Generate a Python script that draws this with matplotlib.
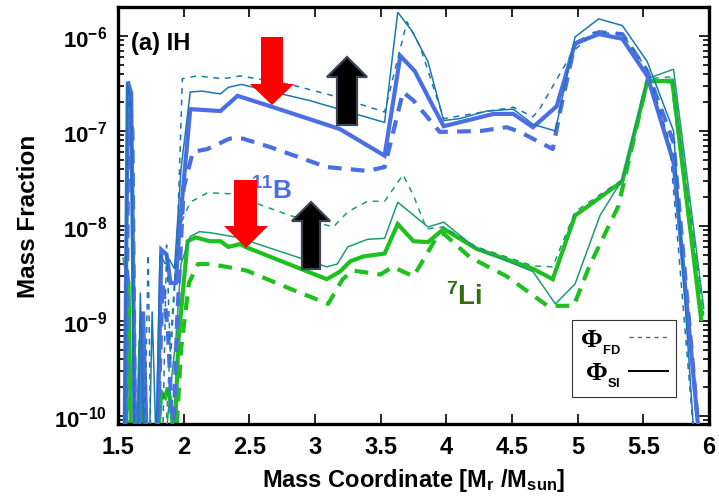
"""Recreation of the 11B / 7Li mass fraction panel (a) IH."""

import matplotlib

matplotlib.use("Agg")
import matplotlib.pyplot as plt
import numpy as np
from matplotlib.lines import Line2D
from matplotlib.patches import Polygon

plt.rcParams["font.family"] = ["Liberation Sans Narrow", "Liberation Sans", "DejaVu Sans"]
plt.rcParams["font.weight"] = "bold"
plt.rcParams["mathtext.fontset"] = "custom"
plt.rcParams["mathtext.rm"] = "Liberation Serif"
plt.rcParams["mathtext.bf"] = "Liberation Sans:bold"
plt.rcParams["mathtext.it"] = "Liberation Sans:bold"

# --- data: mass coordinate and log10(mass fraction) ---
FLOOR = -10.3

b_si_thick_x = [1.55, 1.575, 1.60, 1.63, 1.66, 1.69, 1.72, 1.80, 1.83, 1.87, 1.90, 1.94, 1.97,
                2.05, 2.28, 2.41, 2.66, 3.19, 3.53, 3.65, 3.76, 3.88, 3.98, 4.36, 4.51, 4.66,
                4.84, 4.98, 5.16, 5.34, 5.53, 5.73, 5.93]
b_si_thick_y = [FLOOR, -6.48, -6.60, FLOOR, FLOOR, -8.90, FLOOR, FLOOR, -8.25, -8.30, -8.60, -8.60, -8.00,
                -6.77, -6.79, -6.63, -6.74, -6.98, -7.26, -6.21, -6.37, -6.69, -6.95, -6.82, -6.82, -6.96,
                -6.74, -6.08, -5.98, -6.03, -6.42, -7.33, FLOOR]

b_si_thin_x = [1.55, 1.57, 1.60, 1.62, 1.65, 1.67, 1.70, 1.74, 1.76, 1.79, 1.82, 1.86, 1.89, 1.93,
               1.98, 2.05, 2.14, 2.28, 2.34, 2.44, 2.96, 3.53, 3.63, 3.74, 3.86, 3.98, 4.10, 4.31,
               4.51, 4.66, 4.83, 4.98, 5.16, 5.34, 5.53, 5.73, 5.89]
b_si_thin_y = [FLOOR, -6.50, -6.70, FLOOR, FLOOR, -8.70, FLOOR, FLOOR, -8.90, FLOOR, -8.30, -8.40, -8.35, -8.45,
               -7.40, -6.59, -6.58, -6.61, -6.54, -6.51, -6.68, -6.91, -5.75, -5.95, -6.27, -6.89, -6.87, -6.79,
               -6.77, -6.93, -7.00, -6.01, -5.82, -5.89, -6.27, -7.00, FLOOR]

b_fd_thin_x = [1.55, 1.575, 1.60, 1.63, 1.70, 1.73, 1.75, 1.84, 1.87, 1.90, 1.95, 1.99, 2.10, 2.30,
               2.43, 2.81, 3.14, 3.53, 3.70, 3.80, 3.88, 3.98, 4.28, 4.51, 4.66, 4.71, 4.81, 4.96,
               5.12, 5.34, 5.53, 5.70, 5.89]
b_fd_thin_y = [FLOOR, -6.60, -6.80, FLOOR, FLOOR, -8.30, FLOOR, FLOOR, -8.20, -9.40, -8.20, -6.45, -6.42, -6.45,
               -6.42, -6.51, -6.63, -6.80, -5.85, -6.11, -6.45, -6.87, -6.80, -6.75, -6.85, -6.77, -6.53, -6.17,
               -5.96, -5.98, -6.35, -7.12, FLOOR]

b_fd_thick_x = [1.56, 1.58, 1.61, 1.63, 1.80, 1.84, 1.88, 1.92, 1.95, 2.00, 2.07, 2.18, 2.35, 2.45,
                2.66, 3.09, 3.40, 3.53, 3.67, 3.75, 3.95, 4.26, 4.46, 4.56, 4.81, 4.87, 4.98, 5.16,
                5.34, 5.53, 5.73, 5.93]
b_fd_thick_y = [FLOOR, -6.70, -7.00, FLOOR, FLOOR, -8.60, -9.10, FLOOR, -9.00, -7.60, -7.22, -7.19, -7.08, -7.08,
                -7.17, -7.38, -7.42, -7.38, -6.59, -6.68, -7.01, -7.00, -6.96, -7.01, -7.19, -6.77, -6.08, -5.96,
                -5.98, -6.37, -7.12, FLOOR]

li_si_thick_x = [1.55, 1.58, 1.60, 1.65, 1.67, 1.69, 1.80, 1.83, 1.86, 1.88, 1.90, 1.93, 1.96, 2.03,
                 2.09, 2.20, 2.28, 2.34, 2.43, 2.47, 3.09, 3.19, 3.27, 3.37, 3.53, 3.63, 3.75, 3.86,
                 3.98, 4.23, 4.66, 4.81, 4.98, 5.34, 5.53, 5.72, 5.94]
li_si_thick_y = [-8.35, -8.60, FLOOR, FLOOR, -9.20, FLOOR, FLOOR, -9.75, -9.80, -9.70, -9.85, FLOOR, -9.20, -8.16,
                 -8.12, -8.16, -8.16, -8.22, -8.19, -8.22, -8.56, -8.48, -8.37, -8.32, -8.29, -7.98, -8.16, -8.17,
                 -8.03, -8.24, -8.45, -8.56, -7.89, -7.53, -6.48, -6.47, -8.98]

li_si_thin_x = [1.55, 1.57, 1.65, 1.68, 1.70, 1.86, 1.90, 1.94, 1.98, 2.05, 2.12, 2.20, 2.41, 3.09,
                3.17, 3.25, 3.40, 3.53, 3.63, 3.86, 3.98, 4.23, 4.66, 4.83, 4.98, 5.17, 5.34, 5.53,
                5.73, 5.96]
li_si_thin_y = [-9.00, FLOOR, FLOOR, -9.50, FLOOR, FLOOR, -9.70, -9.20, -8.40, -8.11, -8.06, -8.07, -8.12, -8.43,
                -8.40, -8.22, -8.14, -8.13, -7.75, -8.01, -7.96, -8.24, -8.48, -8.82, -8.61, -7.89, -7.51, -6.45,
                -6.35, -8.87]

li_fd_thin_x = [1.55, 1.58, 1.86, 1.90, 1.93, 1.97, 2.05, 2.18, 2.35, 2.53, 2.81, 3.14, 3.25, 3.40,
                3.53, 3.67, 3.75, 3.85, 3.98, 4.23, 4.66, 4.81, 4.98, 5.34, 5.53, 5.72, 5.96]
li_fd_thin_y = [-9.50, FLOOR, FLOOR, -9.20, -8.60, -8.00, -7.75, -7.65, -7.66, -7.75, -7.89, -8.01, -7.85, -7.74,
                -7.74, -7.46, -7.68, -8.03, -8.01, -8.22, -8.42, -8.43, -7.85, -7.51, -6.45, -6.43, -8.93]

li_fd_thick_x = [1.56, 1.58, 1.94, 1.98, 2.04, 2.11, 2.20, 2.41, 2.48, 2.81, 3.10, 3.21, 3.29, 3.50,
                 3.59, 3.75, 3.93, 3.98, 4.18, 4.46, 4.77, 4.97, 5.09, 5.31, 5.53, 5.72, 5.95]
li_fd_thick_y = [-8.60, FLOOR, FLOOR, -9.30, -8.60, -8.40, -8.40, -8.45, -8.47, -8.66, -8.82, -8.56, -8.47, -8.51,
                 -8.43, -8.53, -8.11, -8.08, -8.33, -8.53, -8.84, -8.84, -8.42, -7.79, -6.47, -6.48, -9.00]

x_ticks = [1.5, 2, 2.5, 3, 3.5, 4, 4.5, 5, 5.5, 6]
x_tick_labels = ["1.5", "2", "2.5", "3", "3.5", "4", "4.5", "5", "5.5", "6"]
y_ticks = [1e-10, 1e-9, 1e-8, 1e-7, 1e-6]
y_tick_labels = [r"10$^{\mathbf{-10}}$", r"10$^{\mathbf{-9}}$", r"10$^{\mathbf{-8}}$",
                 r"10$^{\mathbf{-7}}$", r"10$^{\mathbf{-6}}$"]
legend_labels = [r"$\Phi_{_{\mathbf{FD}}}$", r"$\Phi_{_{\mathbf{SI}}}$"]

# --- styles ---
B_THICK = "#4a6fe3"
B_THIN = "#1a78b0"
LI_THICK = "#1ec01e"
LI_THIN = "#1f9a76"
THICK_DASH = (0, (3.3, 2.2))
THIN_DASH = (0, (3.8, 3.8))

# figure pixel geometry of the axes frame
AX_L, AX_R, AX_T, AX_B = 118, 709, 8, 425
FIG_W, FIG_H = 719, 502


def px_to_axes(px, py):
    return ((px - AX_L) / (AX_R - AX_L), (AX_B - py) / (AX_B - AX_T))


def block_arrow(ax, tip, shaft_x, end_y, head_base_y, head_x, face, edge=None):
    """Draw a block arrow given pixel-coordinate geometry."""
    pts = [
        (shaft_x[0], end_y),
        (shaft_x[1], end_y),
        (shaft_x[1], head_base_y),
        (head_x[1], head_base_y),
        tip,
        (head_x[0], head_base_y),
        (shaft_x[0], head_base_y),
    ]
    verts = [px_to_axes(*p) for p in pts]
    poly = Polygon(verts, closed=True, transform=ax.transAxes, facecolor=face,
                   edgecolor=edge if edge else face, linewidth=1.6 if edge else 0,
                   joinstyle="miter", zorder=6)
    ax.add_patch(poly)


fig = plt.figure(figsize=(FIG_W / 100, FIG_H / 100), dpi=100)
ax = fig.add_axes([AX_L / FIG_W, 1 - AX_B / FIG_H, (AX_R - AX_L) / FIG_W, (AX_B - AX_T) / FIG_H])


def plot_series(x, logy, color, lw, ls, z):
    ax.plot(x, np.power(10.0, logy), color=color, lw=lw, ls=ls, zorder=z,
            solid_joinstyle="miter", dash_capstyle="butt")


plot_series(li_fd_thick_x, li_fd_thick_y, LI_THICK, 3.0, THICK_DASH, 2)
plot_series(li_si_thick_x, li_si_thick_y, LI_THICK, 3.0, "-", 2)
plot_series(li_fd_thin_x, li_fd_thin_y, LI_THIN, 1.1, THIN_DASH, 3)
plot_series(li_si_thin_x, li_si_thin_y, LI_THIN, 1.1, "-", 3)
plot_series(b_fd_thick_x, b_fd_thick_y, B_THICK, 3.0, THICK_DASH, 4)
plot_series(b_si_thick_x, b_si_thick_y, B_THICK, 3.0, "-", 4)
plot_series(b_fd_thin_x, b_fd_thin_y, B_THIN, 1.1, THIN_DASH, 5)
plot_series(b_si_thin_x, b_si_thin_y, B_THIN, 1.1, "-", 5)

ax.set_yscale("log")
ax.set_xlim(1.5, 6.0)
ax.set_ylim(10 ** -10.084, 10 ** -5.695)

ax.set_xticks(x_ticks)
ax.set_xticklabels(x_tick_labels, fontsize=17, fontweight="bold")
ax.set_yticks(y_ticks)
ax.set_yticklabels(y_tick_labels, fontsize=16, fontweight="bold")
ax.tick_params(which="both", direction="in", top=True, right=True, width=1.2)
ax.tick_params(which="major", length=7, pad=8)
ax.tick_params(which="minor", length=4)
ax.tick_params(axis="x", which="minor", bottom=False, top=False)
for sp in ax.spines.values():
    sp.set_linewidth(2.4)

ax.set_xlabel(r"Mass Coordinate [M$_{\mathbf{r}}$ /M$_{\mathbf{sun}}$]", fontsize=17, fontweight="bold", labelpad=6)
ax.set_ylabel("Mass Fraction", fontsize=17.5, fontweight="bold", labelpad=10)

# panel and species labels
ax.text(*px_to_axes(131, 50), "(a) IH", fontsize=17, fontweight="bold", color="black",
        transform=ax.transAxes, ha="left", va="baseline")
ax.text(*px_to_axes(251, 200), r"$^{\mathbf{11}}$B", fontsize=19, fontweight="bold", color=B_THICK,
        transform=ax.transAxes, ha="left", va="baseline")
ax.text(*px_to_axes(446, 305), r"$^{\mathbf{7}}$Li", fontsize=20, fontweight="bold", color="#336d10",
        transform=ax.transAxes, ha="left", va="baseline")

# arrows (pixel geometry)
block_arrow(ax, (272, 106), (261, 283), 38, 85, (250, 294), "#ff0000")
block_arrow(ax, (246, 249), (234, 257), 181, 227, (224, 268), "#ff0000")
block_arrow(ax, (347, 58), (337, 357), 126, 78, (327, 367), "#000000", edge="#3c4454")
block_arrow(ax, (311, 203), (302, 320), 270, 222, (292, 330), "#000000", edge="#3c4454")

handles = [
    Line2D([], [], color="#666666", lw=1.0, ls=(0, (3, 3))),
    Line2D([], [], color="black", lw=1.4, ls="-"),
]
leg = ax.legend(handles, legend_labels, loc="lower right", bbox_to_anchor=px_to_axes(676, 398),
                markerfirst=False, fontsize=19, frameon=True, fancybox=False,
                edgecolor="black", handlelength=1.5, handletextpad=0.3,
                borderpad=0.3, labelspacing=0.2, borderaxespad=0)
leg.get_frame().set_linewidth(0.8)

fig.savefig("out.png", dpi=100)
